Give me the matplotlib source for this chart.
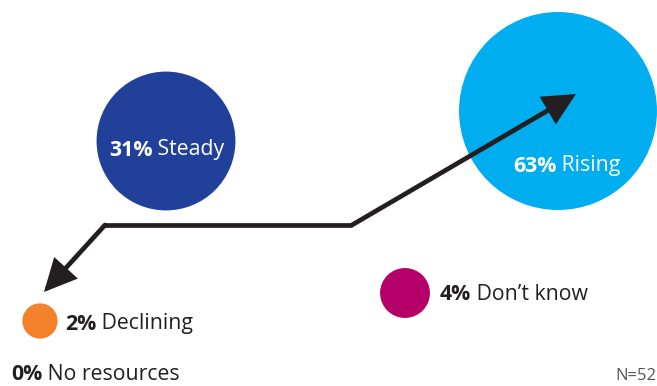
import numpy as np
import matplotlib.pyplot as plt
from matplotlib.patches import Circle

plt.rcParams['font.family'] = ['Open Sans', 'DejaVu Sans']

# survey answers
answers = ["Rising", "Steady", "Don\u2019t know", "Declining", "No resources"]
shares = [63, 31, 4, 2, 0]
fill_colors = ["#00aeef", "#21409a", "#b5006a", "#f4822c", None]

# bubble centres (pixels) and label anchors (left x, middle y)
centres = [(558, 111), (166, 141), (405, 293), (40, 321), None]
label_pos = [(513, 166), (109, 150), (440, 295), (65, 324), (11, 375)]
label_color = ["white", "white", "#231f20", "#231f20", "#231f20"]
px_per_share = 155.5  # bubble area per percent, in px^2

fig = plt.figure(figsize=(6.57, 3.86), dpi=100)
ax = fig.add_axes([0, 0, 1, 1])
ax.set_xlim(0, 657)
ax.set_ylim(386, 0)
ax.set_aspect('equal')
ax.axis('off')

for share, col, c in zip(shares, fill_colors, centres):
    if c is None or share == 0:
        continue
    r = np.sqrt(share * px_per_share)
    ax.add_patch(Circle(c, r, color=col, lw=0, zorder=1))

# trend arrows
line_col = "#231f20"
head = "-|>,head_length=0.45,head_width=0.22"
ax.plot([105, 352], [225, 225], color=line_col, lw=3.4, solid_capstyle='butt',
        solid_joinstyle='miter', zorder=2)
ax.annotate("", xy=(44, 292), xytext=(105, 225),
            arrowprops=dict(arrowstyle=head, color=line_col, lw=3.4,
                            shrinkA=0, shrinkB=0, mutation_scale=40,
                            joinstyle='miter'), zorder=2)
ax.annotate("", xy=(576, 94), xytext=(352, 225),
            arrowprops=dict(arrowstyle=head, color=line_col, lw=3.4,
                            shrinkA=0, shrinkB=0, mutation_scale=40,
                            joinstyle='miter'), zorder=2)

# labels: bold share followed by the answer
fs = 15.3
for share, ans, (x, y), tc in zip(shares, answers, label_pos, label_color):
    t = ax.text(x, y, f"{share}%", fontsize=fs, fontweight='bold', color=tc,
                ha='left', va='center', zorder=3)
    ax.annotate(" " + ans, xy=(1, 0), xycoords=t, fontsize=fs, color=tc,
                ha='left', va='bottom', zorder=3)

ax.text(656, 376, "N=52", fontsize=12, color="#555555", ha='right', va='center')

fig.savefig("out.png", dpi=100)
